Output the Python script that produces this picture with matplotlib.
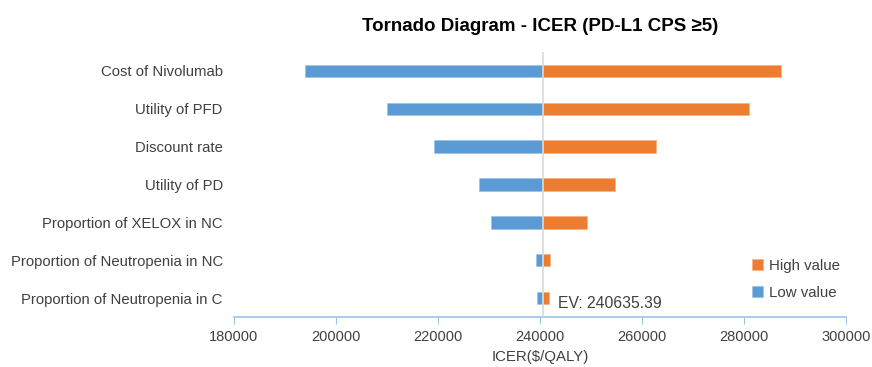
import matplotlib.pyplot as plt

params = ['Cost of Nivolumab', 'Utility of PFD', 'Discount rate', 'Utility of PD',
          'Proportion of XELOX in NC', 'Proportion of Neutropenia in NC',
          'Proportion of Neutropenia in C']
low_vals = [194000, 210100, 219200, 228000, 230400, 239200, 239500]
high_vals = [287300, 281000, 262700, 254800, 249300, 242000, 241700]
ev = 240635.39
xticks = [180000, 200000, 220000, 240000, 260000, 280000, 300000]

plt.rcParams['font.family'] = ['Liberation Sans', 'DejaVu Sans']
txt = '#404040'
blue = '#5b9bd5'
orange = '#ed7d31'

fig = plt.figure(figsize=(8.72, 3.67), dpi=100)
ax = fig.add_axes([0.2683, 0.1362, 0.7017, 0.7222])

ypos = list(range(len(params)))
ax.barh(ypos, [h - ev for h in high_vals], left=ev, height=0.33,
        color=orange, edgecolor='#f4b183', linewidth=0.5, label='High value')
ax.barh(ypos, [l - ev for l in low_vals], left=ev, height=0.33,
        color=blue, edgecolor='#9dc3e6', linewidth=0.5, label='Low value')
ax.axvline(ev, color='#d9d9d9', linewidth=1.2, zorder=3)

ax.set_ylim(len(params) - 0.5, -0.5)
ax.set_xlim(180000, 300000)
ax.set_yticks(ypos)
ax.set_yticklabels(params, fontsize=10.7, color=txt)
ax.set_xticks(xticks)
ax.set_xticklabels([str(t) for t in xticks], fontsize=10.5, color=txt)
ax.tick_params(axis='y', length=0, pad=8)
ax.tick_params(axis='x', length=5, color='#9dc3e6', pad=4)

for side in ['top', 'right', 'left']:
    ax.spines[side].set_visible(False)
ax.spines['bottom'].set_color('#9dc3e6')
ax.spines['bottom'].set_linewidth(1.2)

ax.set_xlabel('ICER($/QALY)', fontsize=10.8, color=txt, labelpad=5)
ax.set_title('Tornado Diagram - ICER (PD-L1 CPS ≥5)', fontsize=13.5,
             fontweight='bold', color='black', pad=15)
ax.text(243600, 6.15, 'EV: 240635.39', fontsize=11.3, color=txt, va='center')

leg = ax.legend(loc='lower right', bbox_to_anchor=(1.012, 0.015), frameon=False,
                fontsize=10.8, handlelength=0.7, handleheight=0.7,
                labelspacing=0.85, handletextpad=0.4)
for t in leg.get_texts():
    t.set_color(txt)

plt.savefig('out.png', dpi=100)
